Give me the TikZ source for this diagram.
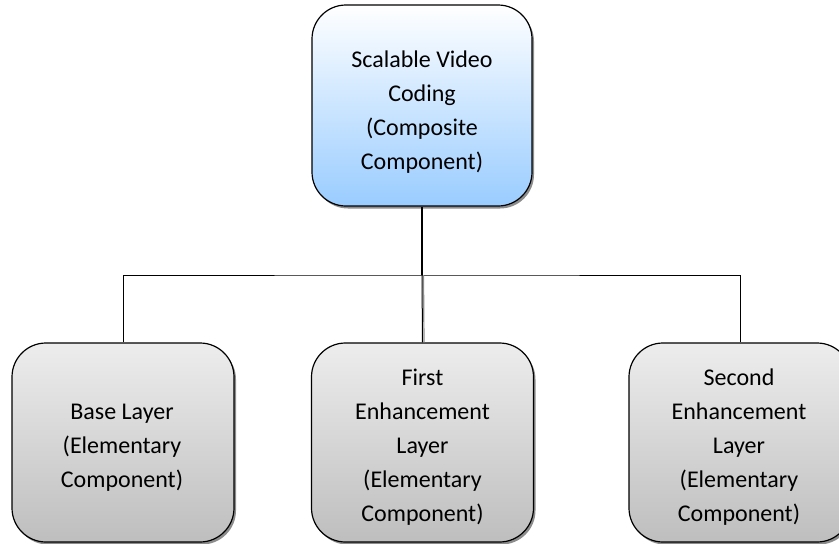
\documentclass[tikz,border=0pt]{standalone}
\usepackage{fontspec}
\setmainfont{Carlito}
\usetikzlibrary{shadows}
\definecolor{topblue}{HTML}{99CCFF}
\definecolor{graytop}{HTML}{EDEDED}
\definecolor{graybot}{HTML}{BEBEBE}
\tikzset{
  boxbase/.style={draw=black, line width=1.2pt, rounded corners=34pt,
    inner sep=0pt,
    drop shadow={shadow xshift=2pt, shadow yshift=-2.5pt, fill=black, opacity=0.45}},
  compbox/.style={boxbase, minimum width=220pt, minimum height=201pt,
    top color=white, bottom color=topblue},
  elembox/.style={boxbase, minimum width=222pt, minimum height=199pt,
    top color=graytop, bottom color=graybot},
  boxtext/.style={align=center, inner sep=0pt, font=\fontsize{24}{34}\selectfont},
  link/.style={draw=black, line width=1pt},
}
\begin{document}
\begin{tikzpicture}[x=1pt,y=-1pt]
\clip (0,0) rectangle (839,544);
\node[compbox] (svc) at (422,105.5) {};
\node[elembox] (base) at (123,442.5) {};
\node[elembox] (first) at (422.5,442.5) {};
\node[elembox] (second) at (740,442.5) {};
\node[boxtext] (svct) at ([yshift=-6.5pt]svc.center) {Scalable Video\\Coding\\(Composite\\Component)};
\node[boxtext] (baset) at ([yshift=-5pt,xshift=-1pt]base.center) {Base Layer\\(Elementary\\Component)};
\node[boxtext] (firstt) at ([yshift=-4.5pt]first.center) {First\\Enhancement\\Layer\\(Elementary\\Component)};
\node[boxtext] (secondt) at ([yshift=-4.5pt,xshift=-1pt]second.center) {Second\\Enhancement\\Layer\\(Elementary\\Component)};
\coordinate (j) at (422,275);
\draw[link, line width=2.2pt] (svc.south) -- (j);
\draw[link] (base.north) |- (j) -| (second.north);
\draw[draw=black!45, line width=1.2pt] ([xshift=1.5pt]j) -- ([xshift=1.5pt]first.north);
\draw[link] (j) -- (first.north);
\end{tikzpicture}
\end{document}
